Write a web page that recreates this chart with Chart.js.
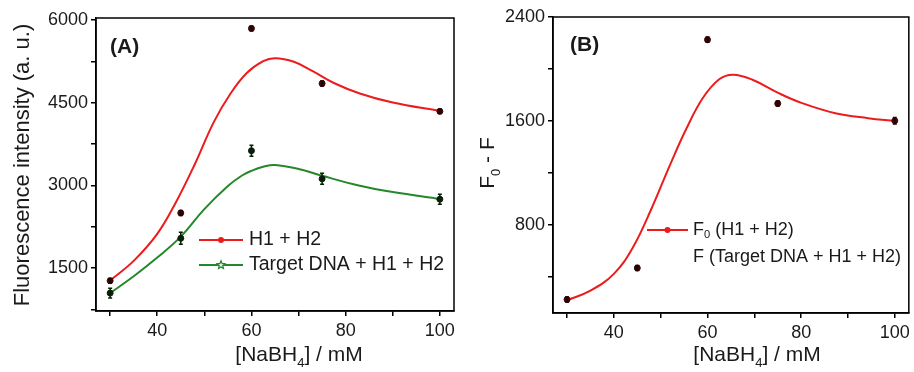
<!DOCTYPE html>
<html>
<head>
<meta charset="utf-8">
<script src="https://cdn.jsdelivr.net/npm/chart.js@4.4.1/dist/chart.umd.min.js"></script>
<style>
  html,body{margin:0;padding:0;background:#fff;}
  #wrap{position:relative;width:914px;height:372px;}
  #pa{position:absolute;left:0;top:0;}
  #pb{position:absolute;left:460px;top:0;}
</style>
</head>
<body>
<div id="wrap">
  <canvas id="pa" width="460" height="372"></canvas>
  <canvas id="pb" width="454" height="372"></canvas>
</div>
<script>
// ---------------- data ----------------
const xVals = [30, 45, 60, 75, 100];                 // [NaBH4] / mM
const h1h2 = [1270, 2500, 5850, 4850, 4345];          // H1 + H2
const h1h2Err = [40, 45, 40, 45, 40];
const targetH1H2 = [1045, 2040, 3630, 3120, 2750];    // Target DNA + H1 + H2
const targetErr = [90, 110, 100, 100, 90];
const diffVals = [222, 465, 2225, 1733, 1600];        // F0 - F
const diffErr = [20, 20, 20, 20, 25];

// fitted curves
const fitXRed = [30, 35, 40, 44, 48, 52, 55.5, 59, 62.5, 65, 69, 73, 77.5, 83, 90, 100];
const fitRed = [1275, 1630, 2120, 2700, 3390, 4150, 4660, 5040, 5255, 5310, 5245, 5075, 4860, 4670, 4505, 4350];
const fitXGreen = [30, 35, 40, 45, 50, 55, 58, 60, 62.5, 65, 70, 75, 83, 90, 100];
const fitGreen = [1045, 1350, 1690, 2070, 2570, 2990, 3180, 3265, 3340, 3372, 3300, 3175, 2995, 2880, 2755];
const fitXB = [30, 35, 40, 44, 48, 52, 55.5, 59, 62.5, 65.5, 69.6, 75.2, 80.2, 87.3, 94.3, 100];
const fitB = [216, 290, 420, 620, 920, 1260, 1540, 1775, 1920, 1955, 1916, 1813, 1736, 1658, 1620, 1599];

// ticks
const xTicks = [30, 40, 50, 60, 70, 80, 90, 100];
const yTicksA = [750, 1500, 2250, 3000, 3750, 4500, 5250, 6000];
const yTicksB = [400, 800, 1200, 1600, 2000, 2400];

// ---------------- style ----------------
const FAM = "'Liberation Sans', Arial, sans-serif";
const RED = '#ec1c1c';
const GREEN = '#24882a';
const TXT = '#1a1a1a';

function pts(xs, ys) { return xs.map((x, i) => ({ x: x, y: ys[i] })); }

function drawRich(ctx, parts, x, y, size, align) {
  let total = 0;
  const ws = parts.map(p => {
    ctx.font = (p.sub ? size * 0.62 : size) + 'px ' + FAM;
    const w = ctx.measureText(p.t).width;
    total += w;
    return w;
  });
  let cx = align === 'center' ? x - total / 2 : x;
  ctx.textAlign = 'left';
  parts.forEach((p, i) => {
    ctx.font = (p.sub ? size * 0.62 : size) + 'px ' + FAM;
    ctx.fillText(p.t, cx, p.sub ? y + size * 0.3 : y);
    cx += ws[i];
  });
}

function starPath(ctx, cx, cy, r) {
  ctx.beginPath();
  for (let i = 0; i < 10; i++) {
    const rr = i % 2 === 0 ? r : r * 0.45;
    const a = -Math.PI / 2 + i * Math.PI / 5;
    const px = cx + rr * Math.cos(a), py = cy + rr * Math.sin(a);
    if (i === 0) ctx.moveTo(px, py); else ctx.lineTo(px, py);
  }
  ctx.closePath();
}

function panelPlugin(cfg) {
  return {
    id: 'panel' + cfg.name,
    afterDatasetsDraw(chart) {
      const ctx = chart.ctx, xs = chart.scales.x, ys = chart.scales.y;
      ctx.save();
      cfg.errors.forEach(set => {
        ctx.strokeStyle = set.color;
        ctx.lineWidth = 1.5;
        set.xs.forEach((xv, i) => {
          const px = xs.getPixelForValue(xv);
          const t = ys.getPixelForValue(set.ys[i] + set.errs[i]);
          const b = ys.getPixelForValue(set.ys[i] - set.errs[i]);
          ctx.beginPath();
          ctx.moveTo(px, t); ctx.lineTo(px, b);
          ctx.moveTo(px - 2, t); ctx.lineTo(px + 2, t);
          ctx.moveTo(px - 2, b); ctx.lineTo(px + 2, b);
          ctx.stroke();
        });
      });
      ctx.restore();
    },
    afterDraw(chart) {
      const ctx = chart.ctx, a = chart.chartArea;
      ctx.save();
      // frame
      ctx.strokeStyle = '#000';
      ctx.lineWidth = 1.5;
      ctx.strokeRect(a.left, a.top, a.right - a.left, a.bottom - a.top);
      ctx.fillStyle = TXT;
      ctx.textBaseline = 'middle';
      // panel label
      ctx.font = 'bold 21px ' + FAM;
      ctx.textAlign = 'left';
      ctx.fillText(cfg.panelLabel, cfg.panelPos[0], cfg.panelPos[1]);
      // legend
      cfg.legend.forEach(it => {
        if (it.color) {
          ctx.strokeStyle = it.color;
          ctx.lineWidth = 2;
          ctx.beginPath();
          ctx.moveTo(it.lx0, it.y); ctx.lineTo(it.lx1, it.y);
          ctx.stroke();
          const mx = (it.lx0 + it.lx1) / 2;
          if (it.marker === 'star') {
            starPath(ctx, mx, it.y, 4.2);
            ctx.fillStyle = '#dff0df';
            ctx.fill();
            ctx.lineWidth = 1.2;
            ctx.stroke();
          } else {
            ctx.beginPath();
            ctx.arc(mx, it.y, 3, 0, Math.PI * 2);
            ctx.fillStyle = it.color;
            ctx.fill();
          }
        }
        ctx.fillStyle = TXT;
        ctx.textBaseline = 'middle';
        drawRich(ctx, it.parts, it.tx, it.y, it.size, 'left');
      });
      // x title
      ctx.textBaseline = 'alphabetic';
      ctx.fillStyle = TXT;
      drawRich(ctx, cfg.xTitle, cfg.xTitlePos[0], cfg.xTitlePos[1], 21, 'center');
      // y title
      ctx.save();
      ctx.translate(cfg.yTitlePos[0], cfg.yTitlePos[1]);
      ctx.rotate(-Math.PI / 2);
      drawRich(ctx, cfg.yTitle, 0, 0, cfg.yTitleSize, 'center');
      ctx.restore();
      ctx.restore();
    }
  };
}

function axisOpts(min, max, ticks, labelStep, fitProp, fitVal, pad) {
  return {
    type: 'linear',
    min: min, max: max,
    afterBuildTicks: s => { s.ticks = ticks.map(v => ({ value: v })); },
    afterFit: s => { s[fitProp] = fitVal; },
    grid: { drawOnChartArea: false, drawTicks: true, tickLength: 5, tickColor: '#000', color: '#000', lineWidth: 1.5 },
    border: { display: true, color: '#000', width: 1.5 },
    ticks: {
      autoSkip: false, maxRotation: 0, minRotation: 0, padding: pad,
      color: TXT, font: { size: 18, family: FAM },
      callback: v => (v % labelStep === 0 ? String(v) : '')
    }
  };
}

const curveStyle = { borderWidth: 2, pointRadius: 0, tension: 0.4, fill: false, order: 1 };

// ---------------- panel A ----------------
new Chart(document.getElementById('pa'), {
  type: 'scatter',
  data: {
    datasets: [
      { label: 'H1 + H2 data', data: pts(xVals, h1h2), pointRadius: 3, pointBackgroundColor: '#3a0606', pointBorderColor: '#3a0606', order: 0 },
      { label: 'Target DNA + H1 + H2 data', data: pts(xVals, targetH1H2), pointRadius: 3, pointBackgroundColor: '#0e1e0e', pointBorderColor: '#0e1e0e', order: 0 },
      Object.assign({ type: 'line', label: 'H1 + H2', data: pts(fitXRed, fitRed), borderColor: RED }, curveStyle),
      Object.assign({ type: 'line', label: 'Target DNA + H1 + H2', data: pts(fitXGreen, fitGreen), borderColor: GREEN }, curveStyle)
    ]
  },
  options: {
    responsive: false, animation: false, devicePixelRatio: 1,
    layout: { padding: { top: 18, right: 6, left: 0, bottom: 0 } },
    plugins: { legend: { display: false }, tooltip: { enabled: false } },
    scales: {
      x: axisOpts(27, 103, xTicks, 20, 'height', 61, 4),
      y: axisOpts(720, 6040, yTicksA, 1500, 'width', 96, 3)
    }
  },
  plugins: [panelPlugin({
    name: 'A',
    panelLabel: '(A)', panelPos: [110, 47],
    errors: [
      { xs: xVals, ys: h1h2, errs: h1h2Err, color: '#200' },
      { xs: xVals, ys: targetH1H2, errs: targetErr, color: '#020' }
    ],
    legend: [
      { color: RED, marker: 'circle', lx0: 199, lx1: 243, y: 240, tx: 249, size: 19.5, parts: [{ t: 'H1 + H2' }] },
      { color: GREEN, marker: 'star', lx0: 199, lx1: 243, y: 265, tx: 249, size: 19.5, parts: [{ t: 'Target DNA + H1 + H2' }] }
    ],
    xTitle: [{ t: '[NaBH' }, { t: '4', sub: true }, { t: '] / mM' }],
    xTitlePos: [299, 361],
    yTitle: [{ t: 'Fluorescence intensity (a. u.)' }],
    yTitleSize: 22,
    yTitlePos: [29, 165]
  })]
});

// ---------------- panel B ----------------
new Chart(document.getElementById('pb'), {
  type: 'scatter',
  data: {
    datasets: [
      { label: 'F0 - F data', data: pts(xVals, diffVals), pointRadius: 3, pointBackgroundColor: '#3a0606', pointBorderColor: '#3a0606', order: 0 },
      Object.assign({ type: 'line', label: 'F0 - F', data: pts(fitXB, fitB), borderColor: RED }, curveStyle)
    ]
  },
  options: {
    responsive: false, animation: false, devicePixelRatio: 1,
    layout: { padding: { top: 17, right: 2, left: 0, bottom: 0 } },
    plugins: { legend: { display: false }, tooltip: { enabled: false } },
    scales: {
      x: axisOpts(27, 103, xTicks, 20, 'height', 59, 4),
      y: axisOpts(118, 2400, yTicksB, 800, 'width', 93, 3)
    }
  },
  plugins: [panelPlugin({
    name: 'B',
    panelLabel: '(B)', panelPos: [110, 45],
    errors: [
      { xs: xVals, ys: diffVals, errs: diffErr, color: '#200' }
    ],
    legend: [
      { color: RED, marker: 'circle', lx0: 187, lx1: 228, y: 230, tx: 233, size: 18, parts: [{ t: 'F' }, { t: '0', sub: true }, { t: ' (H1 + H2)' }] },
      { color: null, y: 257, tx: 233, size: 18, parts: [{ t: 'F (Target DNA + H1 + H2)' }] }
    ],
    xTitle: [{ t: '[NaBH' }, { t: '4', sub: true }, { t: '] / mM' }],
    xTitlePos: [297, 361],
    yTitle: [{ t: 'F' }, { t: '0', sub: true }, { t: ' - F' }],
    yTitleSize: 21,
    yTitlePos: [34, 163]
  })]
});
</script>
</body>
</html>
